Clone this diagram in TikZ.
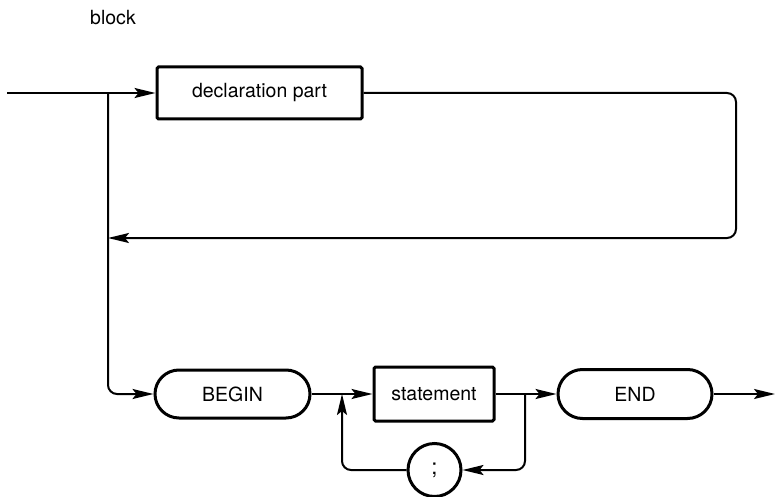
\documentclass[tikz,border=0pt]{standalone}
\usepackage{fontspec}
\setmainfont{TeX Gyre Heros}
\usetikzlibrary{arrows.meta,shapes.misc}
\begin{document}
\begin{tikzpicture}[x=1pt,y=-1pt,
  labelfont/.style={font=\fontsize{19.5}{22}\selectfont},
  flow/.style={line width=2pt, line join=round},
  arr/.style={flow,-{Stealth[length=21pt,width=10pt,inset=4pt]}},
  boxnode/.style={draw, line width=3pt, rectangle, rounded corners=1.5pt,
    inner sep=0pt, labelfont},
  termnode/.style={draw, line width=3pt, rounded rectangle,
    inner sep=0pt, labelfont},
  sepnode/.style={draw, line width=3pt, circle, inner sep=0pt, labelfont},
  loop/.style={arr, rounded corners=9pt}
]
\useasboundingbox (0,0) rectangle (775,497);

% title
\node[labelfont, anchor=base] (title) at (113,25) {block};

% syntax elements
\node[boxnode, minimum width=205pt, minimum height=52pt] (decl) at (259.5,93) {declaration part};
\node[termnode, minimum width=155pt, minimum height=48pt] (begin) at (232.5,394) {BEGIN};
\node[boxnode, minimum width=120pt, minimum height=54pt] (stmt) at (434,394) {statement};
\node[termnode, minimum width=154pt, minimum height=49pt] (end) at (635,394) {END};
\node[sepnode, minimum size=53pt, font=\fontsize{22}{24}\selectfont] (semi) at (434.5,470) {;};

% branch points and free ends
\coordinate (in) at (7,93);
\coordinate (j1) at (108,93);
\coordinate (rc) at (736,238);
\coordinate (ret) at (108,238);
\coordinate (j2) at (342,394);
\coordinate (j3) at (525,394);
\coordinate (out) at (775,394);

% declaration loop
\draw[flow] (in) -- (j1);
\draw[arr] (j1) -- (decl.west);
\draw[loop] (decl.east) -| (rc) -- (ret);

% statement sequence
\draw[loop] (j1) |- (begin.west);
\draw[flow] (begin.east) -- (j2);
\draw[arr] (j2) -- (stmt.west);
\draw[flow] (stmt.east) -- (j3);
\draw[arr] (j3) -- (end.west);
\draw[arr] (end.east) -- (out);

% separator loop
\draw[loop] (j3) |- (semi.east);
\draw[loop] (semi.west) -| (j2);
\end{tikzpicture}
\end{document}
